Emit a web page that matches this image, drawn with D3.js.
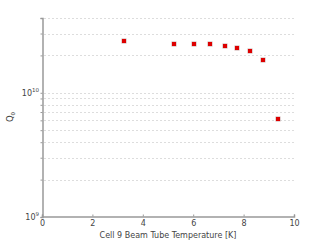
<!DOCTYPE html>
<html>
<head>
<meta charset="utf-8">
<script src="https://cdn.jsdelivr.net/npm/d3@7"></script>
<style>
  body { margin: 0; background: #fff; }
  text { font-family: "DejaVu Sans", sans-serif; fill: #444; }
</style>
</head>
<body>
<svg id="chart" width="325" height="244"></svg>
<script>
// data
var temperature = [3.25, 5.22, 6.03, 6.68, 7.27, 7.74, 8.24, 8.76, 9.37];
var q0 = [2.59e10, 2.46e10, 2.46e10, 2.45e10, 2.40e10, 2.30e10, 2.17e10, 1.83e10, 6.2e9];
var xTicks = [0, 2, 4, 6, 8, 10];
var gridValues = [2e9, 3e9, 4e9, 5e9, 6e9, 7e9, 8e9, 9e9, 1e10, 2e10, 3e10, 4e10];
var majorTicks = [1e9, 1e10];

var svg = d3.select("#chart");

var plotLeft = 42, plotRight = 294, plotTop = 18, plotBottom = 217;

var x = d3.scaleLinear().domain([0, 10]).range([plotLeft, plotRight]);
var y = d3.scaleLog().domain([1e9, 4e10]).range([plotBottom, plotTop]);

// dashed grid
svg.append("g")
    .selectAll("line")
    .data(gridValues)
    .enter().append("line")
    .attr("x1", plotLeft + 2)
    .attr("x2", plotRight + 2)
    .attr("y1", function(d){ return Math.round(y(d)) + 0.5; })
    .attr("y2", function(d){ return Math.round(y(d)) + 0.5; })
    .style("stroke", "#ddd")
    .style("stroke-width", 1)
    .style("stroke-dasharray", "2,2");

// y axis
var yAxis = d3.axisLeft(y)
    .tickValues(gridValues.concat([1e9]))
    .tickSize(2)
    .tickFormat("");
var gy = svg.append("g")
    .attr("transform", "translate(" + (plotLeft + 0.5) + ",0)")
    .call(yAxis);
gy.select(".domain").style("stroke", "#999").style("stroke-width", 1.5);
gy.selectAll(".tick line").style("stroke", "#999");

// x axis
var xAxis = d3.axisBottom(x)
    .tickValues(xTicks)
    .tickSize(-2)
    .tickPadding(4)
    .tickFormat(d3.format("d"));
var gx = svg.append("g")
    .attr("transform", "translate(0," + (plotBottom - 0.5) + ")")
    .call(xAxis);
gx.select(".domain").style("stroke", "#999").style("stroke-width", 1.5);
gx.selectAll(".tick line").style("stroke", "#999");
gx.selectAll(".tick text").style("font-size", "8px").style("fill", "#444");

// y tick labels with exponent
var ylab = svg.append("g")
    .selectAll("text")
    .data(majorTicks)
    .enter().append("text")
    .attr("x", plotLeft - 3)
    .attr("y", function(d){ return y(d) + 3; })
    .attr("text-anchor", "end")
    .style("font-size", "8px");
ylab.append("tspan").text("10");
ylab.append("tspan")
    .attr("dy", -4)
    .style("font-size", "5.5px")
    .text(function(d){ return Math.round(Math.log10(d)); });

// axis titles
svg.append("text")
    .attr("x", (plotLeft + plotRight) / 2)
    .attr("y", 238)
    .attr("text-anchor", "middle")
    .style("font-size", "8px")
    .text("Cell 9 Beam Tube Temperature [K]");

var yt = svg.append("text")
    .attr("transform", "translate(13,117) rotate(-90)")
    .attr("text-anchor", "middle")
    .style("font-size", "8.5px");
yt.append("tspan").text("Q");
yt.append("tspan").attr("dy", 2).style("font-size", "5.5px").text("0");

// markers
var pts = svg.append("g")
    .selectAll("g")
    .data(temperature)
    .enter().append("g")
    .attr("transform", function(d, i){
        return "translate(" + Math.round(x(d)) + "," + Math.round(y(q0[i])) + ")";
    });
pts.append("rect")
    .attr("x", -2.5).attr("y", -2.5)
    .attr("width", 5).attr("height", 5)
    .style("fill", "#c9a9a9");
pts.append("rect")
    .attr("x", -2).attr("y", -2)
    .attr("width", 4).attr("height", 4)
    .style("fill", "#dd0000");
</script>
</body>
</html>
